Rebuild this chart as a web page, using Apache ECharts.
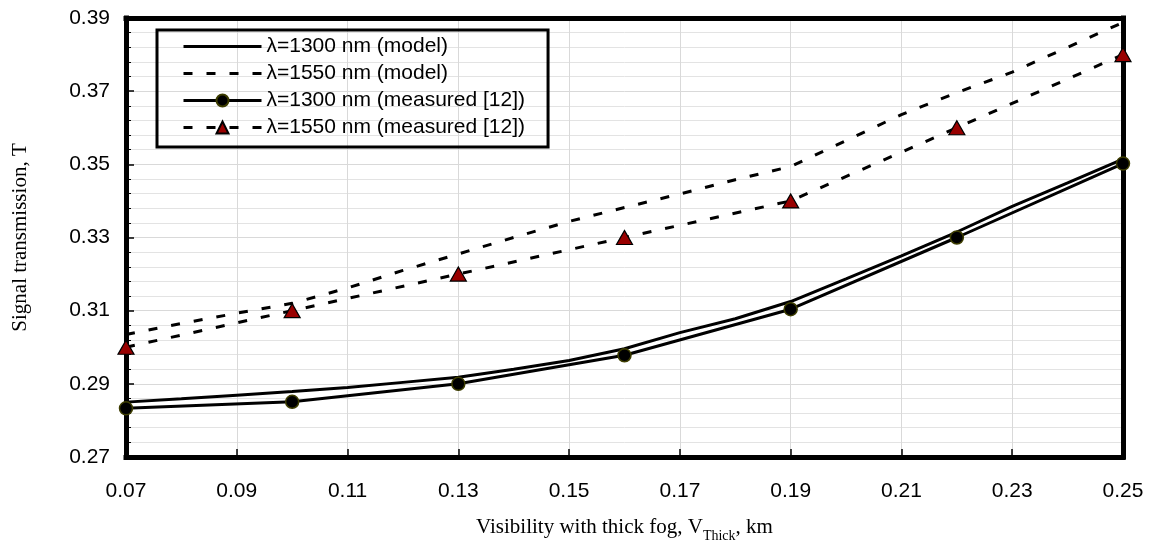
<!DOCTYPE html>
<html><head><meta charset="utf-8">
<script src="https://cdn.jsdelivr.net/npm/echarts@6/dist/echarts.min.js"></script>
<style>html,body{margin:0;padding:0;background:#fff}#c{width:1151px;height:550px}</style>
</head><body><div id="c"></div>
<script>
// ---- data ----
const modelX = [0.07,0.08,0.09,0.10,0.11,0.12,0.13,0.14,0.15,0.16,0.17,0.18,0.19,0.20,0.21,0.22,0.23,0.24,0.25];
const model1300 = [0.2850,0.2859,0.2869,0.2879,0.2890,0.2904,0.2918,0.2940,0.2964,0.2996,0.3040,0.3078,0.3125,0.3187,0.3250,0.3315,0.3385,0.3449,0.3514];
const model1550 = [0.3035,0.3065,0.3093,0.3120,0.3162,0.3210,0.3255,0.3300,0.3344,0.3382,0.3419,0.3458,0.3494,0.3565,0.3636,0.3696,0.3752,0.3820,0.3888];
const measuredX = [0.07,0.10,0.13,0.16,0.19,0.22,0.25];
const measured1300 = [0.2833,0.2851,0.2900,0.2978,0.3104,0.3300,0.3502];
const measured1550 = [0.300,0.310,0.320,0.330,0.340,0.360,0.380];
const seriesNames = ['λ=1300 nm (model)','λ=1550 nm (model)','λ=1300 nm (measured [12])','λ=1550 nm (measured [12])'];
const xAxisTitle = 'Visibility with thick fog, V';
const xAxisSub = 'Thick';
const xAxisTail = ', km';
const yAxisTitle = 'Signal transmission, T';

const pair = (xs, ys) => xs.map((x, i) => [x, ys[i]]);
const chart = echarts.init(document.getElementById('c'));
const sans = 'Liberation Sans, Arial, sans-serif';
const serif = 'Liberation Serif, Times New Roman, serif';
const dash = [9, 14];
const frame = { show: true, lineStyle: { color: '#000', width: 5, cap: 'square' } };

chart.setOption({
  animation: false,
  backgroundColor: '#fff',
  grid: { left: 126, right: 28, top: 18, bottom: 93 },
  legend: {
    orient: 'vertical', left: 157, top: 30,
    padding: [6, 23, 9, 25],
    borderColor: '#000', borderWidth: 3,
    itemWidth: 78, itemHeight: 15, itemGap: 6,
    textStyle: { fontFamily: sans, fontSize: 21, color: '#000', lineHeight: 20 },
    data: [
      { name: seriesNames[0], itemStyle: { opacity: 0 }, lineStyle: { width: 3 } },
      { name: seriesNames[1], itemStyle: { opacity: 0 }, lineStyle: { width: 3 } },
      { name: seriesNames[2], lineStyle: { width: 3 } },
      { name: seriesNames[3], lineStyle: { width: 3 } }
    ]
  },
  xAxis: [{
    type: 'value', min: 0.07, max: 0.25, interval: 0.02,
    axisLine: frame,
    axisTick: { show: true, inside: true, length: 8, lineStyle: { color: '#000', width: 1.5 } },
    axisLabel: { formatter: v => v.toFixed(2), fontFamily: sans, fontSize: 21, color: '#000', margin: 24 },
    splitLine: { show: true, lineStyle: { color: '#d9d9d9', width: 1 } },
    name: '{a|' + xAxisTitle + '}{s|' + xAxisSub + '}{a|' + xAxisTail + '}',
    nameLocation: 'middle', nameGap: 60,
    nameTextStyle: {
      rich: {
        a: { fontFamily: serif, fontSize: 21, color: '#000', verticalAlign: 'bottom', padding: [0, 0, 5, 0] },
        s: { fontFamily: serif, fontSize: 14, color: '#000', verticalAlign: 'bottom' }
      }
    }
  }, {
    type: 'value', position: 'top', min: 0.07, max: 0.25, interval: 0.02,
    axisLine: frame, axisTick: { show: false }, axisLabel: { show: false }, splitLine: { show: false }
  }],
  yAxis: [{
    type: 'value', min: 0.27, max: 0.39, interval: 0.02,
    axisLine: frame,
    axisTick: { show: true, inside: true, length: 8, lineStyle: { color: '#000', width: 1.5 } },
    minorTick: { show: true, splitNumber: 5, length: 5, lineStyle: { color: '#000', width: 1 } },
    axisLabel: { formatter: v => v.toFixed(2), fontFamily: sans, fontSize: 21, color: '#000', margin: 16 },
    splitLine: { show: true, lineStyle: { color: '#d9d9d9', width: 1 } },
    minorSplitLine: { show: true, lineStyle: { color: '#e3e3e3', width: 1 } },
    name: yAxisTitle, nameLocation: 'middle', nameGap: 95,
    nameTextStyle: { fontFamily: serif, fontSize: 21, color: '#000' }
  }, {
    type: 'value', position: 'right', min: 0.27, max: 0.39, interval: 0.02,
    axisLine: frame, axisTick: { show: false }, axisLabel: { show: false }, splitLine: { show: false }
  }],
  series: [
    { name: seriesNames[0], type: 'line', data: pair(modelX, model1300), symbol: 'none', z: 3,
      lineStyle: { color: '#000', width: 3 }, itemStyle: { color: '#000' } },
    { name: seriesNames[1], type: 'line', data: pair(modelX, model1550), symbol: 'none', z: 3,
      lineStyle: { color: '#000', width: 3, type: dash }, itemStyle: { color: '#000' } },
    { name: seriesNames[2], type: 'line', data: pair(measuredX, measured1300), symbol: 'circle', symbolSize: 13, z: 4,
      lineStyle: { color: '#000', width: 3 }, itemStyle: { color: '#000', borderColor: '#3d3d00', borderWidth: 1.5 } },
    { name: seriesNames[3], type: 'line', data: pair(measuredX, measured1550), symbol: 'triangle', symbolSize: [16, 14], z: 4,
      lineStyle: { color: '#000', width: 3, type: dash }, itemStyle: { color: '#990000', borderColor: '#000', borderWidth: 1.2 } }
  ]
});
</script>
</body></html>
